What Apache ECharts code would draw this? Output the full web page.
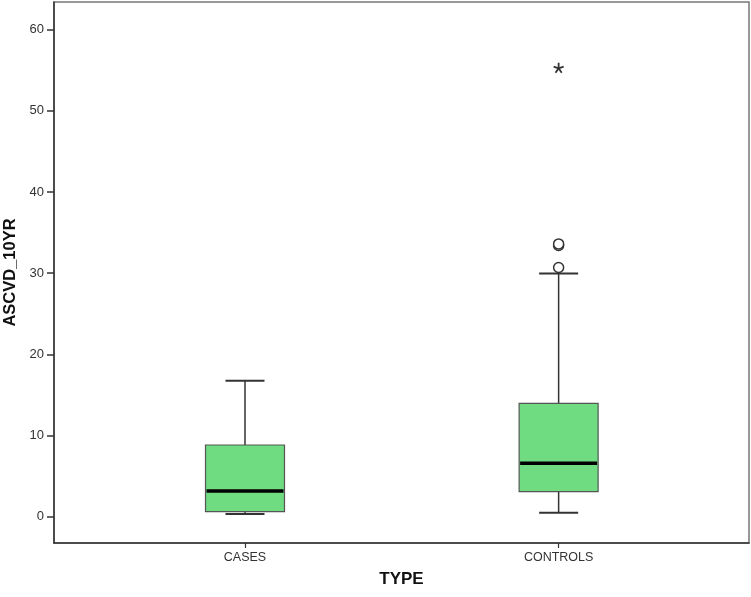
<!DOCTYPE html>
<html>
<head>
<meta charset="utf-8">
<script src="https://cdn.jsdelivr.net/npm/echarts@6/dist/echarts.min.js"></script>
<style>html,body{margin:0;padding:0;background:#fff}#c{width:751px;height:597px}</style>
</head>
<body>
<div id="c"></div>
<script>
// ---- data ----
const categories = ['CASES', 'CONTROLS'];
const lowerWhisker = [0.33, 0.49];
const q1 = [0.62, 3.08];
const median = [3.17, 6.58];
const q3 = [8.83, 13.97];
const upperWhisker = [16.75, 29.97];
const outlierGroup = ['CONTROLS', 'CONTROLS', 'CONTROLS'];
const outlierValues = [30.7, 33.4, 33.6];
const extremeGroup = ['CONTROLS'];
const extremeValues = [55.3];
const yTicks = [0, 10, 20, 30, 40, 50, 60];

// ---- build ----
const pos = c => categories.indexOf(c) + 1;
const boxData = categories.map((c, i) => [i + 1, lowerWhisker[i], q1[i], median[i], q3[i], upperWhisker[i]]);
const outData = outlierGroup.map((c, i) => [pos(c), outlierValues[i]]);
const extData = extremeGroup.map((c, i) => [pos(c), extremeValues[i]]);
const tickPos = categories.map((c, i) => i + 1);

const BOX_W = 79, CAP_W = 39;

function renderBox(params, api) {
  const x = api.value(0);
  const pLo = api.coord([x, api.value(1)]);
  const pQ1 = api.coord([x, api.value(2)]);
  const pMed = api.coord([x, api.value(3)]);
  const pQ3 = api.coord([x, api.value(4)]);
  const pHi = api.coord([x, api.value(5)]);
  const cx = pQ1[0];
  const lineStyle = { stroke: '#333', lineWidth: 1.5 };
  return {
    type: 'group',
    children: [
      { type: 'line', shape: { x1: cx, y1: pQ3[1], x2: cx, y2: pHi[1] }, style: lineStyle },
      { type: 'line', shape: { x1: cx, y1: pQ1[1], x2: cx, y2: pLo[1] }, style: lineStyle },
      { type: 'line', shape: { x1: cx - CAP_W / 2, y1: pHi[1], x2: cx + CAP_W / 2, y2: pHi[1] }, style: { stroke: '#333', lineWidth: 2 } },
      { type: 'line', shape: { x1: cx - CAP_W / 2, y1: pLo[1], x2: cx + CAP_W / 2, y2: pLo[1] }, style: { stroke: '#333', lineWidth: 2 } },
      { type: 'rect', shape: { x: cx - BOX_W / 2, y: pQ3[1], width: BOX_W, height: pQ1[1] - pQ3[1] },
        style: { fill: '#6fdc82', stroke: '#555', lineWidth: 1.2 } },
      { type: 'line', shape: { x1: cx - BOX_W / 2 + 1, y1: pMed[1], x2: cx + BOX_W / 2 - 1, y2: pMed[1] }, style: { stroke: '#000', lineWidth: 3.5 } }
    ]
  };
}

const chart = echarts.init(document.getElementById('c'), null, { renderer: 'canvas' });
chart.setOption({
  animation: false,
  backgroundColor: '#fff',
  textStyle: { fontFamily: 'Liberation Sans, Arial, sans-serif' },
  grid: { left: 54, right: 2, top: 2, bottom: 54, containLabel: false, outerBoundsMode: 'none',
          show: true, borderColor: '#777', borderWidth: 1.5, backgroundColor: '#fff' },
  xAxis: {
    type: 'value', min: 0.391, max: 2.607,
    name: 'TYPE', nameLocation: 'middle', nameGap: 28,
    nameTextStyle: { fontSize: 17, fontWeight: 'bold', color: '#111', fontFamily: 'Liberation Sans' },
    axisLine: { show: true, onZero: false, lineStyle: { color: '#333', width: 1.5 } },
    axisTick: { show: true, customValues: tickPos, length: 5, lineStyle: { color: '#333', width: 1.2 } },
    axisLabel: { customValues: tickPos, formatter: v => categories[Math.round(v) - 1] || '', fontSize: 12.5, color: '#333', margin: 8, fontFamily: 'Liberation Sans' },
    splitLine: { show: false }
  },
  yAxis: {
    type: 'value', min: -3.24, max: 63.4,
    name: 'ASCVD_10YR', nameLocation: 'middle', nameRotate: 90, nameGap: 34,
    nameTextStyle: { fontSize: 16.5, fontWeight: 'bold', color: '#111', fontFamily: 'Liberation Sans' },
    axisLine: { show: true, onZero: false, lineStyle: { color: '#333', width: 1.5 } },
    axisTick: { show: true, customValues: yTicks, length: 7, lineStyle: { color: '#333', width: 1.5 } },
    axisLabel: { customValues: yTicks, fontSize: 13, color: '#333', margin: 10, fontFamily: 'Liberation Sans' },
    splitLine: { show: false }
  },
  series: [
    { type: 'custom', data: boxData, renderItem: renderBox, encode: { x: 0, y: [1, 2, 3, 4, 5] }, z: 2 },
    { type: 'scatter', data: outData, symbol: 'circle', symbolSize: 10,
      itemStyle: { color: '#fff', borderColor: '#333', borderWidth: 1.5, opacity: 1 }, z: 3 },
    { type: 'scatter', data: extData,
      symbol: 'path://M0,-10L0,0M9.51,-3.09L0,0M5.88,8.09L0,0M-5.88,8.09L0,0M-9.51,-3.09L0,0',
      symbolSize: 10, itemStyle: { color: 'none', borderColor: '#333', borderWidth: 1.8, opacity: 1 }, z: 3 }
  ]
});
</script>
</body>
</html>
